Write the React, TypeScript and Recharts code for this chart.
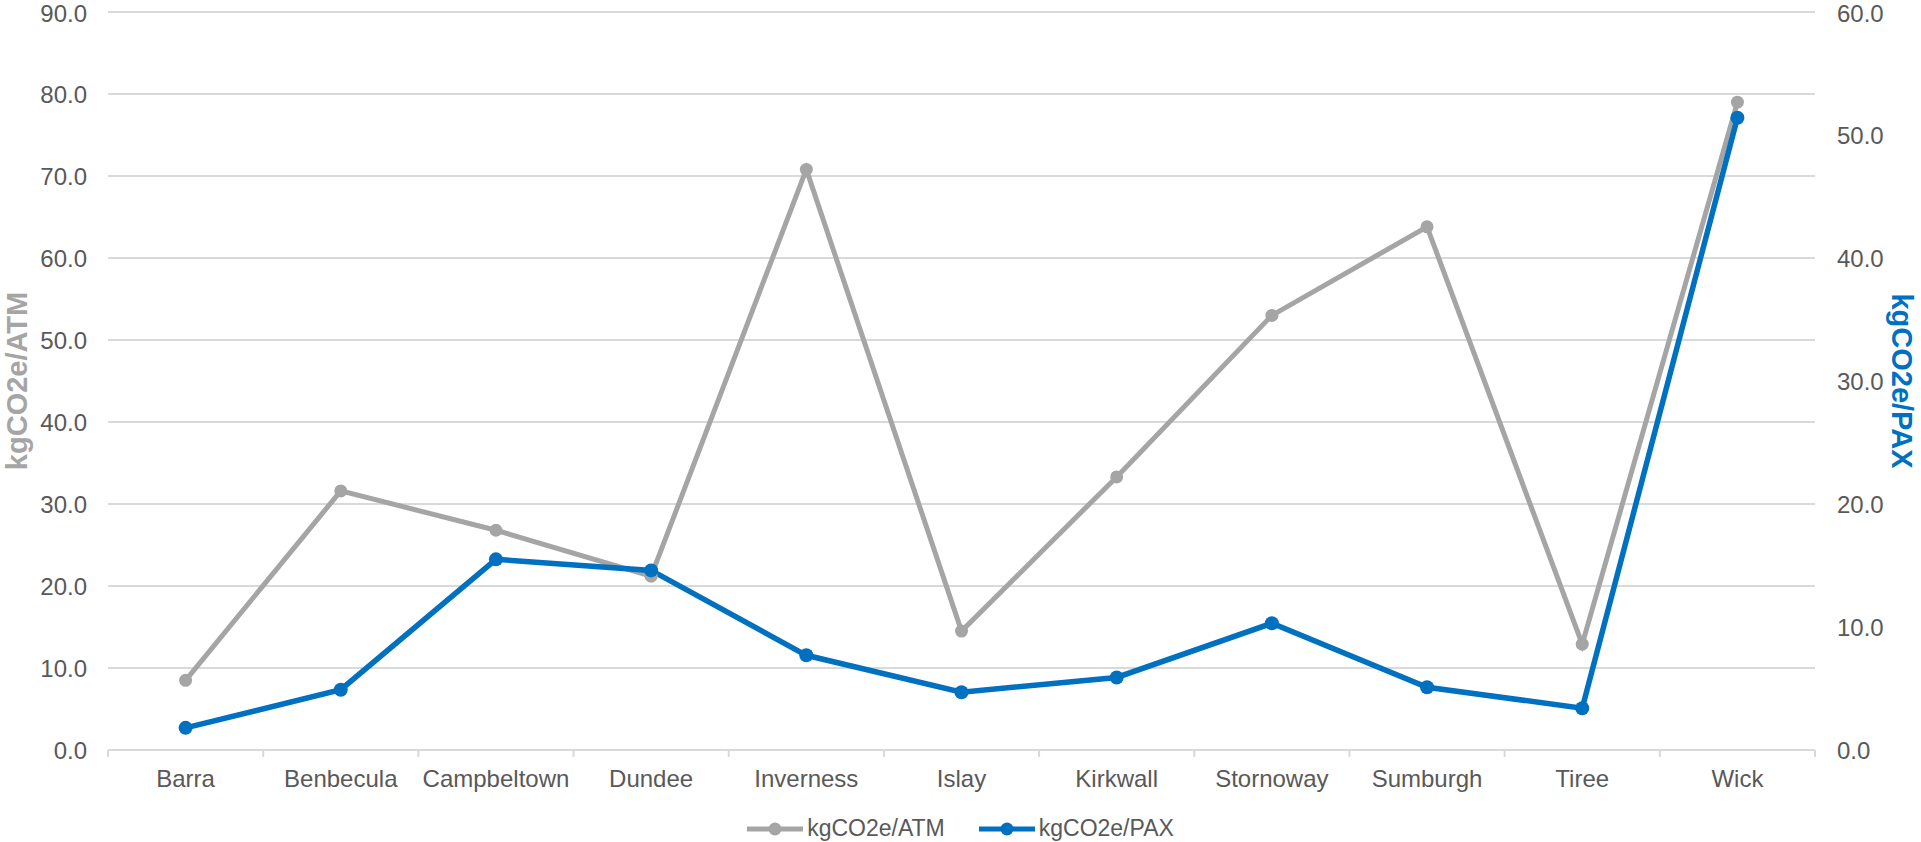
import React from 'react'
import { LineChart, Line, XAxis, YAxis, CartesianGrid, Legend } from 'recharts'

const airports = ['Barra', 'Benbecula', 'Campbeltown', 'Dundee', 'Inverness', 'Islay', 'Kirkwall', 'Stornoway', 'Sumburgh', 'Tiree', 'Wick']
const atmValues = [8.5, 31.6, 26.8, 21.2, 70.8, 14.5, 33.3, 53.0, 63.8, 12.9, 79.0]
const paxValues = [1.8, 4.9, 15.5, 14.6, 7.7, 4.7, 5.9, 10.3, 5.1, 3.4, 51.4]
const atmTicks = [0, 10, 20, 30, 40, 50, 60, 70, 80, 90]
const paxTicks = [0, 10, 20, 30, 40, 50, 60]

const data = airports.map((name, i) => ({ name, atm: atmValues[i], pax: paxValues[i] }))

const W = 1921
const H = 842
const LEFT_W = 108
const RIGHT_W = 106
const TOP = 12
const X_AXIS_H = 92
const PLOT_W = W - LEFT_W - RIGHT_W
const BAND = PLOT_W / airports.length
const AXIS_Y = H - X_AXIS_H

const FONT = '"Liberation Sans", Arial, sans-serif'
const TEXT = '#595959'
const GRID = '#D9D9D9'
const GRAY = '#A5A5A5'
const BLUE = '#0070C0'
const TICK_SIZE = 24

const fmt = (v: number) => v.toFixed(1)

const XTick = (props: any) => {
  const { x, y, payload, index } = props
  return (
    <g>
      <line x1={x - BAND / 2} x2={x - BAND / 2} y1={AXIS_Y} y2={AXIS_Y + 7} stroke={GRID} strokeWidth={2} />
      {index === airports.length - 1 && (
        <line x1={x + BAND / 2} x2={x + BAND / 2} y1={AXIS_Y} y2={AXIS_Y + 7} stroke={GRID} strokeWidth={2} />
      )}
      <text x={x} y={y} dy="0.71em" textAnchor="middle" fill={TEXT} fontSize={TICK_SIZE} fontFamily={FONT}>
        {payload.value}
      </text>
    </g>
  )
}

const renderLegend = (props: any) => (
  <div style={{ display: 'flex', justifyContent: 'center', gap: 34, fontFamily: FONT, fontSize: 23, color: TEXT }}>
    {props.payload.map((p: any) => (
      <div key={p.value} style={{ display: 'flex', alignItems: 'center' }}>
        <svg width={56} height={16}>
          <line x1={0} x2={56} y1={8} y2={8} stroke={p.color} strokeWidth={5} />
          <circle cx={28} cy={8} r={6.5} fill={p.color} />
        </svg>
        <span style={{ marginLeft: 4 }}>{p.value}</span>
      </div>
    ))}
  </div>
)

export default function App() {
  return (
    <div style={{ position: 'absolute', left: 0, top: 0, width: W, height: H, background: '#fff' }}>
      <LineChart width={W} height={H} data={data} margin={{ top: TOP, right: 0, bottom: 0, left: 0 }}>
        <CartesianGrid yAxisId="left" vertical={false} stroke={GRID} strokeWidth={2} />
        <XAxis
          dataKey="name"
          scale="band"
          height={X_AXIS_H}
          axisLine={{ stroke: GRID, strokeWidth: 2 }}
          tickLine={false}
          tickMargin={14}
          interval={0}
          tick={<XTick />}
        />
        <YAxis
          yAxisId="left"
          width={LEFT_W}
          domain={[0, 90]}
          ticks={atmTicks}
          tickFormatter={fmt}
          axisLine={false}
          tickLine={false}
          tickMargin={15}
          tick={{ fill: TEXT, fontSize: TICK_SIZE, fontFamily: FONT }}
          label={{
            value: 'kgCO2e/ATM',
            angle: -90,
            position: 'insideLeft',
            offset: 17,
            style: { textAnchor: 'middle', fill: GRAY, fontSize: 29, fontWeight: 'bold', fontFamily: FONT },
          }}
        />
        <YAxis
          yAxisId="right"
          orientation="right"
          width={RIGHT_W}
          domain={[0, 60]}
          ticks={paxTicks}
          tickFormatter={fmt}
          axisLine={false}
          tickLine={false}
          tickMargin={16}
          tick={{ fill: TEXT, fontSize: TICK_SIZE, fontFamily: FONT, textAnchor: 'start' }}
          label={{
            value: 'kgCO2e/PAX',
            angle: 90,
            position: 'insideRight',
            offset: 19,
            style: { textAnchor: 'middle', fill: BLUE, fontSize: 29, fontWeight: 'bold', fontFamily: FONT },
          }}
        />
        <Legend
          layout="horizontal"
          verticalAlign="middle"
          align="center"
          wrapperStyle={{ top: 815, left: 0, width: W }}
          content={renderLegend}
        />
        <Line
          yAxisId="left"
          dataKey="atm"
          name="kgCO2e/ATM"
          stroke={GRAY}
          strokeWidth={5}
          dot={{ r: 6.5, fill: GRAY, stroke: 'none' }}
          activeDot={false}
          isAnimationActive={false}
        />
        <Line
          yAxisId="right"
          dataKey="pax"
          name="kgCO2e/PAX"
          stroke={BLUE}
          strokeWidth={5.5}
          dot={{ r: 7, fill: BLUE, stroke: 'none' }}
          activeDot={false}
          isAnimationActive={false}
        />
      </LineChart>
    </div>
  )
}
